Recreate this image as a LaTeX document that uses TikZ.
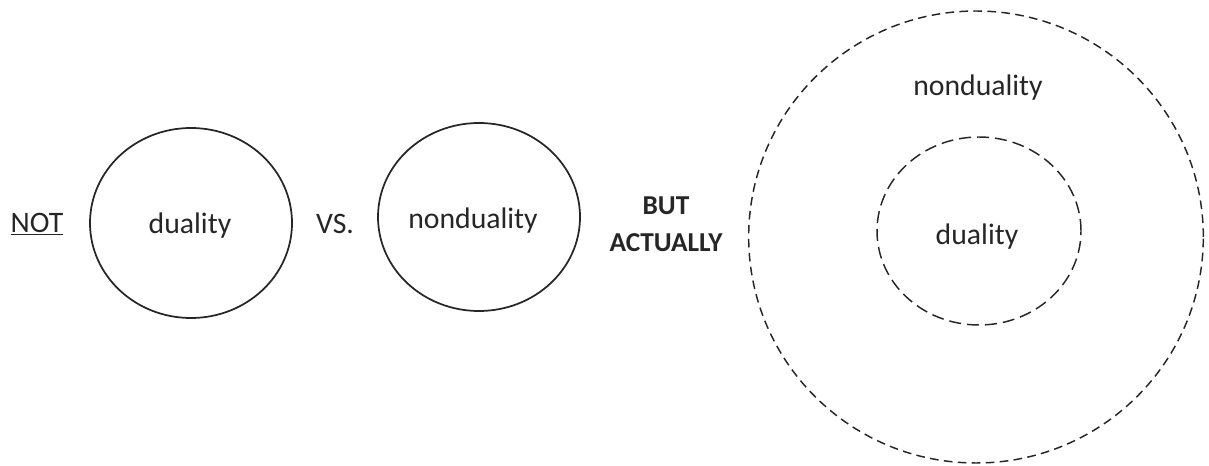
\documentclass[tikz,border=0pt]{standalone}
\usepackage{fontspec}
\setmainfont{Carlito}
\usetikzlibrary{positioning, shapes.geometric}

\begin{document}
\begin{tikzpicture}[x=0.75pt, y=-0.75pt,
  circ/.style = {draw=black!85, ellipse, line width=1.3pt, inner sep=0pt},
  dcirc/.style = {draw=black!85, ellipse, line width=1.1pt, inner sep=0pt, dash pattern=on 6.5pt off 4pt},
  lbl/.style = {font=\fontsize{22.3}{26}\selectfont, text=black!85, inner sep=0pt} ]

\useasboundingbox (0,0) rectangle (1209,466);

% NOT
\node[lbl] (NOT) at (37,224) {\underline{NOT}};

% duality
\node[circ, minimum width=151.5pt, minimum height=142.5pt] (dual) at (191,223) {};
\node[lbl] (dualtxt) at (190,226) {duality};

% VS.
\node[lbl] (VS) at (335,224) {VS.};

% nonduality
\node[circ, minimum width=151.5pt, minimum height=141pt] (nondual) at (479,217) {};
\node[lbl] (nondualtxt) at (473,221) {nonduality};

% BUT ACTUALLY
\node[lbl, font=\fontsize{20.5}{28}\selectfont\bfseries, align=center] (but) at (666,224) {BUT\\ACTUALLY};

% nonduality -- outer
\node[dcirc, minimum width=341pt, minimum height=339pt] (outer) at (976,237) {};
\node[lbl] (outertxt) at (978,88) {nonduality};

% duality -- inner
\node[dcirc, dash pattern=on 9pt off 4.5pt, minimum width=153pt, minimum height=141pt] (inner) at (979,231) {};
\node[lbl] (innertxt) at (977,237) {duality};

\end{tikzpicture}
\end{document}
